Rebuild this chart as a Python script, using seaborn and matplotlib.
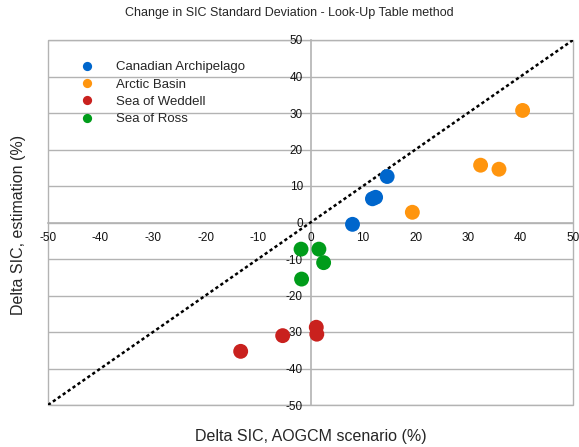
import matplotlib
matplotlib.use("Agg")
import matplotlib.pyplot as plt
from matplotlib.patches import Rectangle
import numpy as np
import pandas as pd
import seaborn as sns

# -----------------------------
# Data
# -----------------------------
REGIONS = ["Canadian Archipelago", "Arctic Basin", "Sea of Weddell", "Sea of Ross"]
COLORS = ["#0066cc", "#ff950e", "#c9211e", "#009c1a"]

canadian_x = [8.0, 11.8, 12.4, 14.6]
canadian_y = [-0.5, 6.5, 6.9, 12.6]

arctic_x = [19.4, 32.4, 35.9, 40.4]
arctic_y = [2.8, 15.7, 14.6, 30.7]

weddell_x = [-13.3, -5.3, 1.1, 1.2]
weddell_y = [-35.3, -31.0, -28.7, -30.6]

ross_x = [-1.8, -1.7, 1.6, 2.5]
ross_y = [-7.3, -15.5, -7.3, -11.0]

TICKS = [-50, -40, -30, -20, -10, 0, 10, 20, 30, 40, 50]
GRID_COLOR = "#b3b3b3"


def build_frame():
    xs = [canadian_x, arctic_x, weddell_x, ross_x]
    ys = [canadian_y, arctic_y, weddell_y, ross_y]
    rows = []
    for name, xv, yv in zip(REGIONS, xs, ys):
        for x, y in zip(xv, yv):
            rows.append({"model": x, "estimate": y, "region": name})
    return pd.DataFrame(rows)


def main():
    sns.set_style("white")
    plt.rcParams["font.family"] = ["Liberation Sans", "DejaVu Sans"]

    df = build_frame()

    fig = plt.figure(figsize=(5.79, 4.47), dpi=100)
    ax = fig.add_axes([48 / 579, 42 / 447, 525 / 579, 365 / 447])

    # horizontal grid lines
    for t in TICKS:
        ax.axhline(t, color=GRID_COLOR, lw=1, zorder=0)

    # 1:1 line
    ax.plot([-50, 50], [-50, 50], color="black", lw=1.8,
            linestyle=(0, (1.3, 1.1)), zorder=1)

    sns.scatterplot(
        data=df, x="model", y="estimate", hue="region",
        hue_order=REGIONS, palette=COLORS, s=115,
        edgecolor="none", ax=ax, zorder=3, legend=True
    )

    ax.set_xlim(-50, 50)
    ax.set_ylim(-50, 50)
    ax.set_xticks(TICKS)
    ax.set_yticks(TICKS)
    ax.set_xticklabels([str(t) for t in TICKS])
    ax.set_yticklabels([str(t) for t in TICKS])

    # axes through the origin
    ax.spines["left"].set_position(("data", 0))
    ax.spines["bottom"].set_position(("data", 0))
    ax.spines["top"].set_visible(False)
    ax.spines["right"].set_visible(False)
    for side in ("left", "bottom"):
        ax.spines[side].set_color(GRID_COLOR)
        ax.spines[side].set_linewidth(1.2)
        ax.spines[side].set_zorder(0.5)

    # outer frame
    ax.add_patch(Rectangle((0, 0), 1, 1, transform=ax.transAxes, fill=False,
                           edgecolor=GRID_COLOR, lw=1, clip_on=False, zorder=0))

    ax.tick_params(axis="both", direction="out", length=4, width=1,
                   color=GRID_COLOR, labelsize=8.5, labelcolor="#111111")
    ax.tick_params(axis="x", pad=2.5)
    ax.tick_params(axis="y", pad=1.5)

    ax.set_xlabel("Delta SIC, AOGCM scenario (%)", fontsize=11.5)
    ax.set_ylabel("Delta SIC, estimation (%)", fontsize=11.5)
    ax.xaxis.set_label_coords(0.5, -0.066)
    ax.yaxis.set_label_coords(-0.042, 0.493)

    handles, labels = ax.get_legend_handles_labels()
    ax.legend(handles, labels, loc="upper left", bbox_to_anchor=(0.05, 0.942),
              frameon=False, fontsize=9.5, markerscale=0.62, borderpad=0,
              labelspacing=0.38, handlelength=2.0, handletextpad=1.2,
              borderaxespad=0)

    fig.text(0.5, 0.972, "Change in SIC Standard Deviation - Look-Up Table method",
             ha="center", va="center", fontsize=9)

    fig.savefig("out.png", dpi=100)
    plt.close(fig)


if __name__ == "__main__":
    main()
